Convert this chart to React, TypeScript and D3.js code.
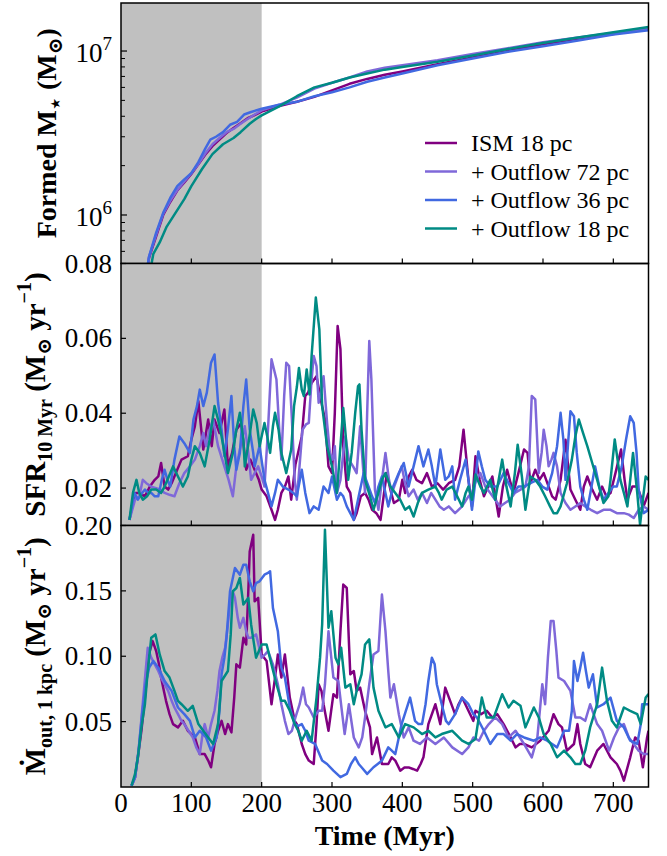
import React from 'react';
import * as d3 from 'd3';

type P = [number, number];

const seriesNames = ['ISM 18 pc', '+ Outflow 72 pc', '+ Outflow 36 pc', '+ Outflow 18 pc'];
const seriesColors = ['#800080', '#7f68d9', '#4169e1', '#008b84'];
const xTicks = [0, 100, 200, 300, 400, 500, 600, 700];
const massMajorTicks = [1e6, 1e7];
const massMinorTicks = [6e5, 7e5, 8e5, 9e5, 2e6, 3e6, 4e6, 5e6, 6e6, 7e6, 8e6, 9e6];
const sfrTicks = [0.02, 0.04, 0.06, 0.08];
const outTicks = [0.05, 0.1, 0.15, 0.2];
const shadeEnd = 200;
const xDomain = [0, 750];
const massDomain = [5.06e5, 1.963e7];
const sfrDomain = [0.01, 0.08];
const outDomain = [0, 0.2];

// Formed stellar mass (Msun)
const massIsm: P[] = [[35,3.98e5],[40,5.5e5],[50,7.41e5],[60,1.0e6],[70,1.2e6],[80,1.41e6],[90,1.58e6],[100,1.78e6],[110,2.04e6],[120,2.34e6],[130,2.63e6],[140,2.88e6],[150,3.16e6],[160,3.39e6],[170,3.63e6],[180,3.89e6],[190,4.07e6],[200,4.27e6],[225,4.62e6],[250,4.9e6],[275,5.25e6],[300,5.75e6],[325,6.31e6],[350,6.76e6],[375,7.16e6],[400,7.5e6],[450,8.32e6],[500,9.12e6],[550,1.0e7],[600,1.1e7],[650,1.19e7],[700,1.27e7],[750,1.38e7]];
const mass72: P[] = [[35,3.98e5],[40,5.6e5],[50,7.6e5],[60,1.02e6],[70,1.22e6],[80,1.42e6],[90,1.6e6],[100,1.8e6],[110,2.05e6],[120,2.38e6],[130,2.7e6],[140,2.95e6],[150,3.2e6],[160,3.35e6],[170,3.6e6],[180,3.85e6],[190,4.1e6],[200,4.35e6],[225,4.7e6],[250,5.2e6],[275,5.9e6],[300,6.4e6],[325,6.9e6],[350,7.5e6],[375,7.9e6],[400,8.2e6],[450,8.8e6],[500,9.6e6],[550,1.04e7],[600,1.13e7],[650,1.21e7],[700,1.29e7],[750,1.37e7]];
const mass36: P[] = [[35,4.2e5],[40,5.6e5],[50,7.8e5],[60,1.03e6],[70,1.27e6],[80,1.5e6],[90,1.65e6],[100,1.8e6],[110,2.1e6],[120,2.55e6],[127,2.88e6],[135,3.0e6],[145,3.2e6],[155,3.55e6],[165,3.7e6],[175,4.1e6],[185,4.25e6],[200,4.45e6],[225,4.7e6],[250,4.9e6],[275,5.3e6],[300,5.6e6],[325,6.0e6],[350,6.5e6],[375,6.9e6],[400,7.3e6],[450,8.2e6],[500,9.0e6],[550,9.9e6],[600,1.07e7],[650,1.16e7],[700,1.26e7],[750,1.34e7]];
const mass18: P[] = [[40,4.2e5],[46,5.8e5],[55,6.8e5],[65,8.5e5],[80,1.07e6],[90,1.25e6],[100,1.5e6],[115,1.9e6],[130,2.35e6],[145,2.7e6],[160,2.95e6],[170,3.2e6],[183,3.6e6],[192,3.85e6],[200,4.05e6],[225,4.6e6],[250,5.3e6],[275,6.0e6],[300,6.4e6],[325,6.9e6],[350,7.3e6],[375,7.7e6],[400,8.0e6],[450,8.6e6],[500,9.4e6],[550,1.03e7],[600,1.12e7],[650,1.21e7],[700,1.3e7],[750,1.4e7]];

// SFR 10 Myr (Msun/yr)
const sfrIsm: P[] = [[12,0.0115],[20,0.0187],[26,0.0187],[34,0.0178],[41,0.0204],[48,0.0222],[53,0.0231],[57,0.0267],[62,0.0204],[67,0.0196],[72,0.0213],[78,0.024],[86,0.0276],[95,0.0285],[100,0.0329],[105,0.0365],[110,0.0432],[117,0.0303],[124,0.0383],[129,0.0312],[133,0.0383],[140,0.0347],[147,0.041],[152,0.0258],[158,0.0294],[164,0.0356],[171,0.0374],[178,0.0249],[184,0.0276],[190,0.0249],[196,0.0222],[200,0.0196],[207,0.0178],[214,0.0142],[219,0.0115],[223,0.0142],[228,0.0187],[233,0.0204],[238,0.0231],[242,0.0169],[248,0.0263],[257,0.0338],[262,0.0446],[266,0.0455],[271,0.0481],[278,0.0499],[284,0.0437],[290,0.0383],[295,0.0258],[300,0.024],[304,0.0401],[308,0.0633],[312,0.0571],[316,0.0312],[321,0.0204],[326,0.0187],[331,0.0115],[335,0.0133],[341,0.0178],[347,0.0187],[352,0.0169],[357,0.0142],[363,0.0133],[369,0.0115],[374,0.0187],[378,0.024],[383,0.0196],[388,0.016],[395,0.0169],[400,0.0222],[404,0.0187],[409,0.0231],[414,0.0249],[420,0.0222],[428,0.0213],[435,0.024],[442,0.0204],[450,0.0213],[458,0.0196],[466,0.0213],[475,0.0222],[481,0.0258],[487,0.0356],[494,0.0222],[499,0.0151],[504,0.0285],[510,0.0222],[516,0.0178],[522,0.0204],[528,0.0231],[533,0.0169],[537,0.0124],[543,0.0204],[549,0.0249],[554,0.0213],[558,0.0187],[565,0.024],[573,0.0303],[578,0.0294],[582,0.0213],[589,0.0249],[595,0.0222],[601,0.024],[608,0.0204],[613,0.0178],[618,0.0169],[625,0.0222],[632,0.0329],[639,0.0196],[646,0.0169],[653,0.0142],[658,0.0204],[663,0.0231],[670,0.0196],[677,0.0169],[684,0.0204],[690,0.0178],[696,0.0187],[703,0.024],[711,0.0303],[716,0.0222],[720,0.0169],[727,0.0204],[734,0.0204],[739,0.0178],[743,0.0151],[750,0.0187]];
const sfr72: P[] = [[12,0.0115],[20,0.0169],[26,0.0178],[31,0.0222],[36,0.0213],[43,0.0204],[50,0.02],[56,0.0196],[62,0.0187],[69,0.0182],[76,0.0178],[83,0.0213],[90,0.024],[98,0.0258],[105,0.0276],[112,0.0312],[117,0.0347],[121,0.0312],[126,0.0356],[131,0.0383],[138,0.0312],[147,0.0258],[153,0.0222],[159,0.0178],[164,0.0258],[170,0.0312],[176,0.0365],[181,0.0294],[185,0.0222],[190,0.024],[195,0.0258],[200,0.0231],[204,0.0204],[209,0.0356],[214,0.0544],[221,0.049],[225,0.0356],[228,0.0276],[232,0.0446],[235,0.0535],[239,0.0526],[243,0.0383],[247,0.0222],[250,0.0169],[258,0.0356],[263,0.037],[267,0.0374],[271,0.049],[274,0.0553],[278,0.0526],[281,0.0428],[285,0.0463],[288,0.0499],[293,0.0374],[297,0.0294],[301,0.0276],[304,0.0312],[307,0.0187],[312,0.0222],[316,0.0294],[319,0.0338],[324,0.0276],[330,0.0258],[335,0.024],[340,0.0365],[344,0.0258],[347,0.0187],[350,0.0401],[353,0.0593],[356,0.049],[359,0.0312],[361,0.0196],[366,0.0142],[371,0.0222],[376,0.0294],[381,0.0222],[385,0.0187],[392,0.0222],[399,0.0258],[404,0.0213],[409,0.0178],[416,0.0196],[422,0.0169],[428,0.0187],[435,0.016],[441,0.0187],[447,0.0169],[453,0.0151],[459,0.0142],[466,0.0151],[475,0.0133],[485,0.0151],[494,0.0178],[499,0.0187],[505,0.0222],[511,0.024],[518,0.0204],[525,0.0187],[532,0.0169],[539,0.0151],[546,0.016],[553,0.0169],[560,0.0187],[568,0.0196],[575,0.0204],[580,0.0258],[584,0.0446],[589,0.0437],[594,0.024],[598,0.0294],[601,0.0356],[605,0.0312],[608,0.0258],[612,0.0276],[615,0.0294],[620,0.0258],[625,0.0187],[632,0.016],[639,0.0142],[646,0.0151],[653,0.016],[660,0.0151],[668,0.0142],[677,0.0133],[686,0.0142],[696,0.0142],[705,0.0133],[715,0.0133],[722,0.0129],[729,0.012],[736,0.0142],[743,0.0151],[750,0.0142]];
const sfr36: P[] = [[12,0.0115],[19,0.0187],[24,0.0169],[30,0.0187],[34,0.0196],[39,0.0187],[43,0.0187],[48,0.0178],[53,0.0178],[58,0.0222],[62,0.0249],[66,0.0222],[70,0.0204],[76,0.0276],[83,0.0338],[90,0.032],[98,0.0294],[103,0.0383],[108,0.0419],[112,0.0463],[117,0.0419],[122,0.0455],[128,0.0535],[133,0.0557],[138,0.0428],[143,0.0356],[147,0.0285],[152,0.0356],[157,0.0446],[161,0.0312],[164,0.0249],[169,0.0294],[174,0.0419],[178,0.049],[183,0.0356],[188,0.0294],[190,0.0258],[197,0.0312],[204,0.0222],[209,0.0187],[214,0.0151],[219,0.0187],[223,0.0222],[230,0.0204],[238,0.0196],[245,0.0187],[250,0.0178],[257,0.0249],[262,0.0187],[268,0.0133],[274,0.0151],[281,0.0142],[288,0.0204],[295,0.0187],[300,0.0231],[307,0.0169],[312,0.0187],[316,0.0178],[321,0.0151],[326,0.0133],[331,0.0115],[338,0.0178],[345,0.024],[352,0.0204],[357,0.0178],[361,0.016],[366,0.0204],[371,0.0231],[376,0.0187],[380,0.0151],[387,0.0204],[395,0.024],[402,0.0267],[409,0.0204],[416,0.0258],[423,0.0312],[430,0.0258],[437,0.0303],[442,0.0258],[447,0.0204],[454,0.0303],[461,0.0222],[466,0.0231],[471,0.0258],[475,0.0169],[482,0.0222],[490,0.0276],[494,0.0222],[499,0.0142],[504,0.0222],[508,0.0298],[513,0.0258],[518,0.0222],[525,0.0204],[535,0.0204],[544,0.024],[551,0.0213],[558,0.0187],[565,0.0204],[573,0.0204],[582,0.0213],[592,0.0222],[599,0.0204],[606,0.0196],[613,0.024],[620,0.0312],[625,0.0401],[629,0.0329],[632,0.0222],[636,0.0329],[639,0.0405],[644,0.0392],[648,0.0294],[653,0.0204],[658,0.0169],[663,0.0142],[669,0.0204],[674,0.0258],[680,0.0204],[686,0.0169],[693,0.0187],[700,0.0204],[705,0.0204],[712,0.0258],[718,0.0329],[724,0.0392],[729,0.0374],[733,0.0294],[736,0.0196],[743,0.0133],[750,0.0142]];
const sfr18: P[] = [[12,0.0115],[17,0.0187],[22,0.0222],[26,0.0187],[31,0.0169],[37,0.0178],[43,0.0196],[50,0.0196],[57,0.0187],[62,0.0204],[68,0.0231],[74,0.0258],[81,0.0231],[88,0.0204],[95,0.0231],[100,0.0276],[105,0.0312],[112,0.0294],[119,0.0258],[126,0.0329],[133,0.0419],[138,0.0383],[143,0.0338],[148,0.0285],[152,0.024],[159,0.0294],[164,0.0356],[169,0.0401],[174,0.0329],[176,0.0258],[182,0.0329],[188,0.041],[193,0.0374],[197,0.0312],[204,0.0374],[208,0.0338],[212,0.0294],[216,0.0365],[219,0.0401],[224,0.0356],[228,0.0294],[235,0.024],[242,0.0303],[246,0.0419],[250,0.047],[253,0.0521],[257,0.0463],[260,0.0446],[264,0.0517],[268,0.045],[271,0.0553],[277,0.0709],[282,0.0624],[286,0.0419],[293,0.0312],[300,0.0258],[307,0.0187],[312,0.0312],[316,0.0414],[320,0.0329],[323,0.0222],[328,0.0294],[333,0.0401],[337,0.0472],[339,0.0477],[342,0.0356],[347,0.0222],[354,0.0178],[359,0.0142],[366,0.0187],[371,0.0222],[376,0.024],[383,0.0204],[390,0.0187],[397,0.0169],[404,0.0142],[410,0.0151],[416,0.0124],[422,0.016],[428,0.0187],[437,0.0196],[447,0.0204],[452,0.0187],[456,0.0169],[463,0.0196],[471,0.0204],[478,0.0178],[485,0.0151],[490,0.0187],[494,0.0204],[499,0.0169],[504,0.0236],[511,0.0204],[516,0.0187],[525,0.0222],[532,0.0169],[537,0.0222],[542,0.0276],[548,0.0204],[554,0.0151],[560,0.024],[564,0.0316],[570,0.0231],[575,0.0142],[582,0.0231],[589,0.0222],[596,0.0204],[603,0.0178],[610,0.0151],[615,0.0133],[620,0.0133],[625,0.0151],[634,0.0213],[641,0.0276],[646,0.0338],[651,0.0383],[657,0.0347],[663,0.0312],[670,0.0267],[677,0.0222],[686,0.016],[693,0.0178],[696,0.0222],[702,0.033],[706,0.0276],[710,0.0222],[715,0.0187],[720,0.0151],[724,0.0222],[728,0.0294],[734,0.0187],[738,0.0102],[742,0.0169],[746,0.0231],[750,0.0222]];

// Outflow rate at 1 kpc (Msun/yr)
const outIsm: P[] = [[15,0.001],[20,0.0075],[24,0.0227],[29,0.043],[34,0.0684],[38,0.0913],[41,0.104],[45,0.1116],[50,0.104],[54,0.0938],[57,0.0837],[61,0.0735],[64,0.0659],[69,0.0557],[74,0.0481],[81,0.0456],[88,0.0506],[95,0.043],[100,0.0405],[105,0.0379],[112,0.0252],[119,0.0252],[124,0.0202],[128,0.0151],[133,0.0329],[138,0.043],[143,0.0506],[148,0.0405],[152,0.0481],[157,0.0418],[161,0.0684],[164,0.0938],[169,0.0913],[174,0.1141],[178,0.109],[181,0.1497],[183,0.1802],[188,0.1929],[190,0.142],[195,0.1446],[200,0.1014],[207,0.0964],[214,0.0633],[219,0.0837],[223,0.1014],[228,0.0837],[233,0.1014],[240,0.0684],[247,0.0506],[250,0.0481],[257,0.0329],[262,0.0252],[267,0.0202],[274,0.0176],[278,0.0481],[281,0.0786],[285,0.0735],[288,0.0633],[295,0.043],[302,0.071],[307,0.0684],[312,0.1192],[316,0.1548],[321,0.1522],[324,0.1116],[326,0.0862],[331,0.0887],[335,0.0735],[340,0.076],[347,0.0583],[354,0.0456],[357,0.0252],[364,0.0379],[371,0.0176],[380,0.0176],[385,0.0227],[390,0.0202],[397,0.0125],[403,0.015],[409,0.015],[415,0.0138],[421,0.0125],[426,0.0176],[430,0.0227],[437,0.0481],[447,0.0633],[454,0.0481],[461,0.076],[468,0.0659],[475,0.0557],[480,0.0633],[485,0.0684],[494,0.0583],[501,0.0506],[504,0.0583],[512,0.0557],[520,0.0583],[528,0.0532],[535,0.0557],[544,0.0481],[554,0.0379],[561,0.0303],[567,0.0329],[573,0.0329],[584,0.0303],[596,0.0354],[608,0.043],[615,0.0557],[622,0.0481],[627,0.0456],[634,0.0278],[644,0.0329],[649,0.0481],[653,0.0329],[660,0.0176],[667,0.0151],[677,0.0278],[686,0.0329],[696,0.0227],[705,0.0176],[710,0.0125],[715,0.0049],[724,0.0227],[731,0.0379],[736,0.0354],[742,0.0151],[748,0.0379],[750,0.043]];
const out72: P[] = [[15,0.001],[20,0.0075],[25,0.0278],[30,0.0583],[35,0.0887],[38,0.1065],[43,0.0989],[48,0.0938],[53,0.0887],[57,0.0837],[62,0.0786],[67,0.0735],[72,0.0659],[76,0.0608],[81,0.0557],[86,0.0506],[90,0.0481],[96,0.043],[102,0.0379],[107,0.0303],[112,0.0252],[116,0.0405],[119,0.0481],[124,0.0379],[128,0.0481],[133,0.0583],[137,0.0735],[140,0.0887],[144,0.0989],[148,0.1065],[152,0.1243],[155,0.142],[159,0.1497],[162,0.1446],[166,0.1294],[169,0.1218],[174,0.1294],[178,0.1192],[181,0.1141],[185,0.1141],[192,0.1167],[200,0.0989],[205,0.1014],[209,0.104],[216,0.0938],[223,0.0786],[228,0.0633],[233,0.0506],[238,0.0405],[243,0.043],[248,0.0532],[254,0.0633],[259,0.076],[263,0.0633],[267,0.0608],[274,0.0532],[281,0.0583],[286,0.0583],[290,0.0786],[295,0.1192],[298,0.104],[302,0.0837],[309,0.0811],[314,0.0583],[318,0.0405],[324,0.0633],[331,0.0379],[338,0.0303],[343,0.0379],[347,0.0532],[353,0.0786],[359,0.1014],[366,0.104],[371,0.1472],[376,0.1192],[380,0.0887],[383,0.0684],[388,0.0786],[395,0.0557],[402,0.0379],[409,0.0456],[416,0.0354],[425,0.0329],[435,0.0379],[447,0.0329],[459,0.0379],[471,0.0303],[485,0.0252],[494,0.0303],[501,0.0379],[509,0.0354],[516,0.043],[523,0.0481],[532,0.0532],[542,0.0481],[551,0.0379],[561,0.043],[573,0.0329],[584,0.0227],[592,0.0379],[599,0.0786],[603,0.0633],[607,0.0989],[611,0.1269],[615,0.1269],[619,0.104],[622,0.0837],[630,0.0811],[639,0.0735],[646,0.0532],[653,0.0532],[660,0.0506],[667,0.0633],[677,0.0481],[684,0.043],[694,0.0278],[701,0.0379],[708,0.0456],[715,0.0481],[722,0.0379],[729,0.0329],[736,0.0278],[743,0.0252],[750,0.0252]];
const out36: P[] = [[15,0.001],[20,0.0075],[25,0.0278],[30,0.0557],[35,0.0786],[40,0.0913],[46,0.0964],[53,0.0913],[62,0.0811],[72,0.0735],[81,0.0608],[90,0.0557],[98,0.0506],[105,0.0379],[112,0.043],[121,0.0379],[128,0.0278],[136,0.0379],[140,0.0583],[143,0.0862],[147,0.0989],[150,0.1141],[155,0.1497],[162,0.1675],[169,0.1624],[174,0.17],[178,0.17],[183,0.1573],[188,0.1497],[192,0.156],[197,0.1573],[204,0.1624],[209,0.1637],[212,0.165],[216,0.137],[223,0.1192],[228,0.0913],[233,0.0837],[240,0.0608],[247,0.0481],[252,0.0468],[257,0.0481],[262,0.043],[267,0.0354],[276,0.0329],[286,0.0202],[293,0.0176],[302,0.0125],[307,0.01],[312,0.0075],[321,0.01],[327,0.0176],[333,0.0227],[338,0.0176],[342,0.0151],[350,0.01],[359,0.0151],[365,0.0176],[371,0.0202],[380,0.0303],[385,0.0278],[390,0.0252],[395,0.0379],[399,0.0481],[405,0.0583],[411,0.0684],[418,0.0506],[423,0.0481],[428,0.0481],[433,0.0633],[437,0.0811],[442,0.0989],[446,0.0938],[449,0.0786],[456,0.0633],[462,0.0506],[466,0.0481],[475,0.0557],[485,0.0684],[494,0.0633],[501,0.0557],[506,0.0532],[516,0.043],[525,0.0329],[535,0.0405],[544,0.0405],[554,0.0354],[563,0.0405],[573,0.0379],[587,0.0354],[596,0.0379],[606,0.0354],[620,0.0303],[630,0.043],[637,0.043],[641,0.0583],[644,0.0964],[649,0.0811],[653,0.0913],[657,0.1027],[661,0.0887],[665,0.076],[671,0.0862],[677,0.0608],[686,0.0633],[696,0.0684],[705,0.0506],[715,0.0456],[724,0.0354],[734,0.0329],[739,0.0481],[741,0.0633],[750,0.0633]];
const out18: P[] = [[15,0.001],[20,0.01],[24,0.0227],[29,0.0456],[34,0.0633],[38,0.0887],[43,0.1141],[49,0.1167],[55,0.1014],[62,0.0887],[69,0.0837],[76,0.0735],[81,0.0659],[86,0.0633],[95,0.0583],[102,0.0621],[110,0.0481],[117,0.043],[124,0.0379],[131,0.0329],[138,0.0481],[143,0.0811],[152,0.0887],[156,0.1167],[159,0.1497],[164,0.1522],[169,0.1599],[174,0.1395],[181,0.1446],[185,0.1243],[192,0.0989],[200,0.109],[207,0.109],[214,0.0938],[221,0.0786],[228,0.0659],[233,0.0659],[240,0.0583],[247,0.0481],[252,0.043],[257,0.0354],[264,0.043],[271,0.0354],[278,0.0684],[283,0.0989],[286,0.1243],[290,0.1967],[295,0.1218],[299,0.1345],[305,0.0989],[309,0.0938],[313,0.1065],[319,0.076],[326,0.0786],[331,0.0633],[335,0.0735],[342,0.0862],[347,0.109],[353,0.1129],[359,0.076],[366,0.0583],[376,0.0456],[385,0.0481],[395,0.0379],[404,0.0481],[416,0.0456],[428,0.0405],[437,0.043],[447,0.0379],[456,0.0405],[471,0.043],[485,0.0354],[494,0.0329],[504,0.0367],[513,0.0684],[520,0.0532],[530,0.0532],[542,0.071],[551,0.0608],[558,0.0659],[568,0.0621],[575,0.0456],[587,0.0608],[594,0.0532],[601,0.0405],[611,0.0329],[620,0.0227],[630,0.0278],[639,0.0227],[646,0.0176],[653,0.0176],[660,0.0278],[667,0.0456],[677,0.0633],[684,0.0913],[691,0.0659],[698,0.0506],[705,0.0456],[715,0.0608],[724,0.0583],[734,0.0557],[739,0.0481],[746,0.0684],[750,0.071]];

const massSeries = [massIsm, mass72, mass36, mass18];
const sfrSeries = [sfrIsm, sfr72, sfr36, sfr18];
const outSeries = [outIsm, out72, out36, out18];

const FONT = "'Liberation Serif', 'Times New Roman', 'DejaVu Serif', serif";

export default function App() {
  const W = 667, H = 856;
  const L = 121, R = 648.5;
  const x = d3.scaleLinear().domain(xDomain).range([L, R]);
  const p1 = { top: 3, bottom: 263.5 };
  const p2 = { top: 263.5, bottom: 525.5 };
  const p3 = { top: 525.5, bottom: 787 };
  const yMass = d3.scaleLog().domain(massDomain).range([p1.bottom, p1.top]);
  const ySfr = d3.scaleLinear().domain(sfrDomain).range([p2.bottom, p2.top]);
  const yOut = d3.scaleLinear().domain(outDomain).range([p3.bottom, p3.top]);
  const fmt = d3.format('.2f');
  const tickLen = 5;

  const panels = [
    { id: 'p1', p: p1, y: yMass, data: massSeries },
    { id: 'p2', p: p2, y: ySfr, data: sfrSeries },
    { id: 'p3', p: p3, y: yOut, data: outSeries },
  ];

  return (
    <svg width={W} height={H} style={{ position: 'absolute', left: 0, top: 0, background: '#fff' }} fontFamily={FONT}>
      <defs>
        {panels.map(pn => (
          <clipPath id={'clip-' + pn.id} key={pn.id}>
            <rect x={L} y={pn.p.top} width={R - L} height={pn.p.bottom - pn.p.top} />
          </clipPath>
        ))}
      </defs>
      {panels.map(pn => {
        const line = d3.line<P>().x(d => x(d[0])).y(d => (pn.y as any)(d[1]));
        return (
          <g key={pn.id}>
            <rect x={x(0)} y={pn.p.top} width={x(shadeEnd) - x(0)} height={pn.p.bottom - pn.p.top} fill="#c0c0c0" />
            <g clipPath={`url(#clip-${pn.id})`}>
              {pn.data.map((s, i) => (
                <path key={i} d={line(s) || ''} fill="none" stroke={seriesColors[i]} strokeWidth={2.5} strokeLinejoin="round" />
              ))}
            </g>
            {xTicks.filter(t => t > 0).map(t => (
              <line key={t} x1={x(t)} x2={x(t)} y1={pn.p.bottom} y2={pn.p.bottom - tickLen} stroke="#000" strokeWidth={1.2} />
            ))}
            <rect x={L} y={pn.p.top} width={R - L} height={pn.p.bottom - pn.p.top} fill="none" stroke="#000" strokeWidth={1.5} />
          </g>
        );
      })}

      {massMajorTicks.map(t => (
        <g key={t}>
          <line x1={L} x2={L + tickLen + 1} y1={yMass(t)} y2={yMass(t)} stroke="#000" strokeWidth={1.2} />
          <text x={112} y={yMass(t) + 11} textAnchor="end" fontSize={27}>
            10<tspan fontSize={19} dy={-12}>{Math.round(Math.log10(t))}</tspan>
          </text>
        </g>
      ))}
      {massMinorTicks.map(t => (
        <line key={t} x1={L} x2={L + tickLen - 1} y1={yMass(t)} y2={yMass(t)} stroke="#000" strokeWidth={1} />
      ))}
      {sfrTicks.map(t => (
        <g key={t}>
          <line x1={L} x2={L + tickLen} y1={ySfr(t)} y2={ySfr(t)} stroke="#000" strokeWidth={1.2} />
          <text x={112} y={ySfr(t) + 9} textAnchor="end" fontSize={27}>{fmt(t)}</text>
        </g>
      ))}
      {outTicks.map(t => (
        <g key={t}>
          <line x1={L} x2={L + tickLen} y1={yOut(t)} y2={yOut(t)} stroke="#000" strokeWidth={1.2} />
          <text x={112} y={yOut(t) + 9} textAnchor="end" fontSize={27}>{fmt(t)}</text>
        </g>
      ))}
      {xTicks.map(t => (
        <text key={t} x={x(t)} y={812} textAnchor="middle" fontSize={27}>{t}</text>
      ))}
      <text x={(L + R) / 2} y={845} textAnchor="middle" fontSize={28} fontWeight="bold">Time (Myr)</text>

      <text transform={`translate(56,${(p1.top + p1.bottom) / 2}) rotate(-90)`} textAnchor="middle" fontSize={28} fontWeight="bold">
        Formed M<tspan fontSize={20} dy={6}>⋆</tspan><tspan dy={-6}> (M</tspan><tspan fontSize={20} dy={6}>⊙</tspan><tspan dy={-6}>)</tspan>
      </text>
      <text transform={`translate(45,${(p2.top + p2.bottom) / 2}) rotate(-90)`} textAnchor="middle" fontSize={29} fontWeight="bold">
        SFR<tspan fontSize={20} dy={7}>10 Myr</tspan><tspan dy={-7}> (M</tspan><tspan fontSize={20} dy={6}>⊙</tspan><tspan dy={-6}> yr</tspan><tspan fontSize={20} dy={-14}>−1</tspan><tspan dy={14}>)</tspan>
      </text>
      <text transform={`translate(45,${(p3.top + p3.bottom) / 2}) rotate(-90)`} textAnchor="middle" fontSize={29} fontWeight="bold">
        Ṁ<tspan fontSize={20} dy={7}>out, 1 kpc</tspan><tspan dy={-7}> (M</tspan><tspan fontSize={20} dy={6}>⊙</tspan><tspan dy={-6}> yr</tspan><tspan fontSize={20} dy={-14}>−1</tspan><tspan dy={14}>)</tspan>
      </text>

      {seriesNames.map((n, i) => {
        const yy = 143 + i * 28.5;
        return (
          <g key={n}>
            <line x1={425} x2={457} y1={yy} y2={yy} stroke={seriesColors[i]} strokeWidth={2.5} />
            <text x={471} y={yy + 8} fontSize={24}>{n}</text>
          </g>
        );
      })}
    </svg>
  );
}
